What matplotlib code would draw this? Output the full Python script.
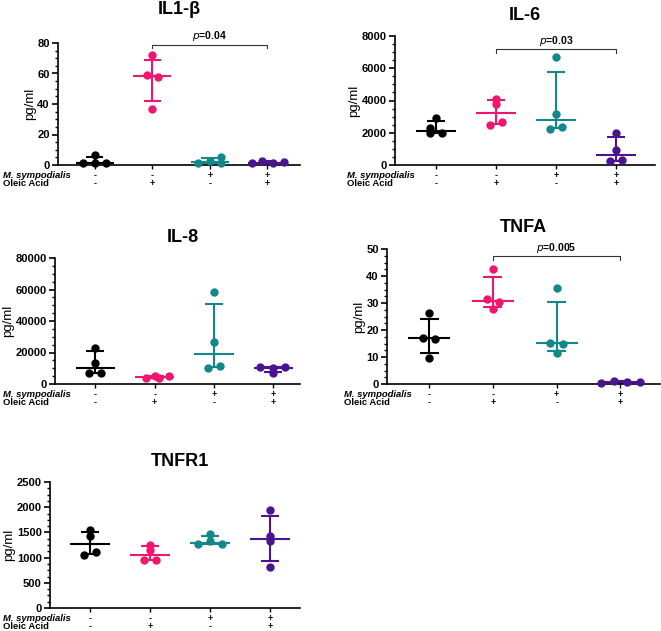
import numpy as np
import matplotlib
matplotlib.use('Agg')
import matplotlib.pyplot as plt
from matplotlib.ticker import AutoMinorLocator

plt.rcParams['font.family'] = ['Liberation Sans', 'DejaVu Sans']

# group labels under the x axis
symp_signs = ['-', '-', '+', '+']
oleic_signs = ['-', '+', '-', '+']

# measured values, one list per group (pg/ml)
il1b = [[1.3, 6.8, 1.3, 1.3],
        [72.0, 59.0, 57.9, 36.7],
        [1.3, 2.4, 5.2, 1.3],
        [1.3, 2.6, 1.3, 1.7]]
il6 = [[1960, 2890, 2270, 2000],
       [4070, 3800, 2480, 2670],
       [6680, 3140, 2230, 2380],
       [2000, 930, 230, 310]]
il8 = [[23100, 13600, 7200, 7200],
       [4000, 4900, 4000, 4900],
       [58600, 26700, 10400, 11500],
       [11000, 10000, 10600, 6800]]
tnfa = [[26.2, 17.2, 16.6, 9.7],
        [42.6, 31.4, 30.4, 27.8],
        [35.4, 15.3, 14.9, 11.4],
        [0.5, 1.1, 0.7, 0.7]]
tnfr1 = [[1550, 1420, 1050, 1115],
         [1256, 1147, 954, 954],
         [1469, 1276, 1321, 1276],
         [1946, 1424, 1321, 805]]

# horizontal spread of the dots (group units), same order as the values
il1b_spread = [[-0.2, 0.0, 0.0, 0.2], [0.0, -0.1, 0.1, 0.0],
               [-0.2, 0.0, 0.2, 0.2], [-0.26, -0.09, 0.1, 0.29]]
il6_spread = [[-0.1, 0.0, -0.1, 0.1], [0.0, 0.0, -0.1, 0.1],
              [0.0, 0.0, -0.1, 0.1], [0.0, 0.0, -0.1, 0.1]]
il8_spread = [[0.0, 0.0, -0.1, 0.1], [-0.15, 0.0, 0.08, 0.25],
              [0.0, 0.0, -0.1, 0.1], [-0.23, 0.0, 0.2, 0.0]]
tnfa_spread = [[0.0, -0.1, 0.1, 0.0], [0.0, -0.1, 0.1, 0.0],
               [0.0, -0.1, 0.1, 0.0], [-0.3, -0.1, 0.1, 0.3]]
tnfr1_spread = [[0.0, 0.0, -0.1, 0.1], [0.0, 0.0, -0.1, 0.1],
                [0.0, -0.2, 0.0, 0.2], [0.0, 0.0, 0.0, 0.0]]

colors = ['black', '#F0166E', '#13878A', '#4A1490']


def panel(rect, title, data, spread, ymax, ystep, xlim, title_y,
          bracket=None, ptext=None, lab_x=None):
    ax = fig.add_axes(rect)
    for g in range(4):
        vals = np.array(data[g], dtype=float)
        xs = g + 1 + np.array(spread[g])
        # median with interquartile range
        q1, med, q3 = np.percentile(vals, [25, 50, 75], method='weibull')
        c = colors[g]
        ax.plot(xs, vals, 'o', color=c, ms=5, zorder=3, clip_on=False)
        ax.hlines(med, g + 1 - 0.33, g + 1 + 0.33, color=c, lw=1.5)
        ax.hlines([q1, q3], g + 1 - 0.15, g + 1 + 0.15, color=c, lw=1.5)
        ax.vlines(g + 1, q1, q3, color=c, lw=1.5)
    ax.set_xlim(*xlim)
    ax.set_ylim(0, ymax)
    ax.set_yticks(np.arange(0, ymax + ystep / 2, ystep))
    ax.yaxis.set_minor_locator(AutoMinorLocator(4))
    ax.set_xticks([1, 2, 3, 4])
    ax.set_xticklabels([])
    ax.spines['top'].set_visible(False)
    ax.spines['right'].set_visible(False)
    for s in ['left', 'bottom']:
        ax.spines[s].set_linewidth(1.2)
    ax.tick_params(axis='y', labelsize=8, width=1.2, length=4, pad=2)
    ax.tick_params(axis='y', which='minor', width=1, length=2)
    ax.tick_params(axis='x', length=3, width=1)
    for t in ax.get_yticklabels():
        t.set_fontweight('bold')
    ax.set_ylabel('pg/ml', fontsize=9.5, labelpad=1)
    fig.text(rect[0] + rect[2] * title_y[0], title_y[1], title,
             fontsize=13, fontweight='bold', ha='center', va='center')
    if bracket is not None:
        y = bracket
        tick = ymax * 0.03
        ax.plot([2, 2, 4, 4], [y - tick, y, y, y - tick], color='#333333',
                lw=0.8, clip_on=False)
        ax.text(3, y + ymax * 0.01, r'$\mathbf{\it{p}}$' + '=' + ptext,
                ha='center', va='bottom', fontsize=7.5, fontweight='bold')
    # treatment rows
    tr = ax.transData
    for g in range(4):
        ax.annotate(symp_signs[g], xy=(g + 1, 0), xycoords=tr,
                    xytext=(0, -7.3), textcoords='offset points',
                    ha='center', va='center', fontsize=6.5, fontweight='bold')
        ax.annotate(oleic_signs[g], xy=(g + 1, 0), xycoords=tr,
                    xytext=(0, -13.5), textcoords='offset points',
                    ha='center', va='center', fontsize=6.5, fontweight='bold')
    ax.annotate('M. sympodialis', xy=(lab_x, 0), xycoords=('figure fraction', 'data'),
                xytext=(0, -7.3), textcoords='offset points', ha='left',
                va='center', fontsize=6.8, fontweight='bold', style='italic')
    ax.annotate('Oleic Acid', xy=(lab_x, 0), xycoords=('figure fraction', 'data'),
                xytext=(0, -13.5), textcoords='offset points', ha='left',
                va='center', fontsize=6.8, fontweight='bold')
    return ax


W, H = 661, 631
fig = plt.figure(figsize=(W / 100, H / 100), dpi=100)


def r(l, t, rgt, b):
    return [l / W, 1 - b / H, (rgt - l) / W, (b - t) / H]


panel(r(58, 43, 300, 165), 'IL1-β', il1b, il1b_spread, 80, 20,
      (0.36, 4.57), (0.5, 1 - 10 / H), bracket=79, ptext='0.04', lab_x=3 / W)
panel(r(395, 36, 655, 165), 'IL-6', il6, il6_spread, 8000, 2000,
      (0.32, 4.65), (0.5, 1 - 15 / H), bracket=7180, ptext='0.03', lab_x=347 / W)
panel(r(55, 258, 300, 384), 'IL-8', il8, il8_spread, 80000, 20000,
      (0.32, 4.45), (0.52, 1 - 237 / H), lab_x=3 / W)
panel(r(387, 249, 660, 384), 'TNFA', tnfa, tnfa_spread, 50, 10,
      (0.34, 4.62), (0.5, 1 - 227 / H), bracket=47.3, ptext='0.005', lab_x=344 / W)
panel(r(50, 482, 300, 608), 'TNFR1', tnfr1, tnfr1_spread, 2500, 500,
      (0.33, 4.5), (0.52, 1 - 462 / H), lab_x=3 / W)

fig.savefig('out.png', dpi=100)
